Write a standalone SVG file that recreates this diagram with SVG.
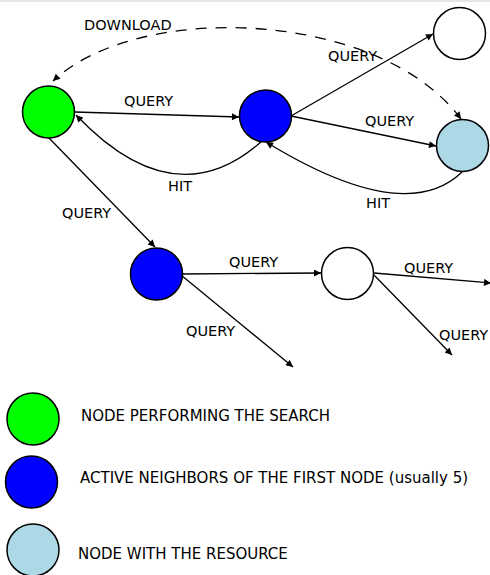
<svg xmlns="http://www.w3.org/2000/svg" width="490" height="575" viewBox="0 0 490 575">
<style>
.n{stroke:#000;stroke-width:1.5}
.e{fill:none;stroke:#000;stroke-width:1.3}
.d{fill:none;stroke:#000;stroke-width:1.3;stroke-dasharray:11,9}
text{font-family:"DejaVu Sans","Liberation Sans",sans-serif;font-size:14.5px;fill:#000}
.lg{font-size:15px}
</style>
<defs>
<marker id="ah" viewBox="0 0 10 10" refX="10" refY="5" markerWidth="9" markerHeight="7" markerUnits="userSpaceOnUse" orient="auto-start-reverse">
<path d="M0,0 L10,5 L0,10 z" fill="#000"/>
</marker>
</defs>
<rect x="0" y="0" width="490" height="2" fill="#e6e6e6"/>
<g id="connectors">
<path class="d" d="M461,119 C380,10 140,0 53,81" marker-start="url(#ah)" marker-end="url(#ah)"/>
<line class="e" x1="75" y1="112" x2="239" y2="117" marker-end="url(#ah)"/>
<path class="e" d="M262,141 Q175,219 76,115" marker-end="url(#ah)"/>
<line class="e" x1="291" y1="116" x2="433" y2="34" marker-end="url(#ah)"/>
<line class="e" x1="291" y1="116" x2="436" y2="146" marker-end="url(#ah)"/>
<path class="e" d="M462,172 Q405,227 266,142" marker-end="url(#ah)"/>
<line class="e" x1="49" y1="138" x2="155" y2="247" marker-end="url(#ah)"/>
<line class="e" x1="183" y1="274" x2="321" y2="273" marker-end="url(#ah)"/>
<line class="e" x1="181" y1="275" x2="293" y2="367" marker-end="url(#ah)"/>
<line class="e" x1="374" y1="273" x2="491" y2="283" marker-end="url(#ah)"/>
<line class="e" x1="374" y1="275" x2="452" y2="355" marker-end="url(#ah)"/>
</g>
<g id="labels">
<text x="84" y="30">DOWNLOAD</text>
<text x="124" y="106">QUERY</text>
<text x="168" y="191">HIT</text>
<text x="62" y="218">QUERY</text>
<text x="328" y="61">QUERY</text>
<text x="365" y="126">QUERY</text>
<text x="366" y="208">HIT</text>
<text x="229" y="267">QUERY</text>
<text x="404" y="273">QUERY</text>
<text x="186" y="336">QUERY</text>
<text x="439" y="340">QUERY</text>
</g>
<g id="node-search"><circle class="n" cx="48.5" cy="112" r="26" fill="#00ff00"/></g>
<g id="node-neighbor1"><circle class="n" cx="265.5" cy="116" r="26" fill="#0000ff"/></g>
<g id="node-top-right"><circle class="n" cx="459.5" cy="33.5" r="26" fill="#ffffff"/></g>
<g id="node-resource"><circle class="n" cx="462.5" cy="145.5" r="26" fill="#add8e6"/></g>
<g id="node-neighbor2"><circle class="n" cx="156.5" cy="274" r="26" fill="#0000ff"/></g>
<g id="node-lower-white"><circle class="n" cx="347.5" cy="273.5" r="26" fill="#ffffff"/></g>
<g id="legend">
<circle class="n" cx="33" cy="419" r="26" fill="#00ff00"/>
<text class="lg" x="81" y="421">NODE PERFORMING THE SEARCH</text>
<circle class="n" cx="31.5" cy="482" r="26" fill="#0000ff"/>
<text class="lg" x="80" y="483">ACTIVE NEIGHBORS OF THE FIRST NODE (usually 5)</text>
<circle class="n" cx="33" cy="550" r="26" fill="#add8e6"/>
<text class="lg" x="78" y="559">NODE WITH THE RESOURCE</text>
</g>
</svg>
